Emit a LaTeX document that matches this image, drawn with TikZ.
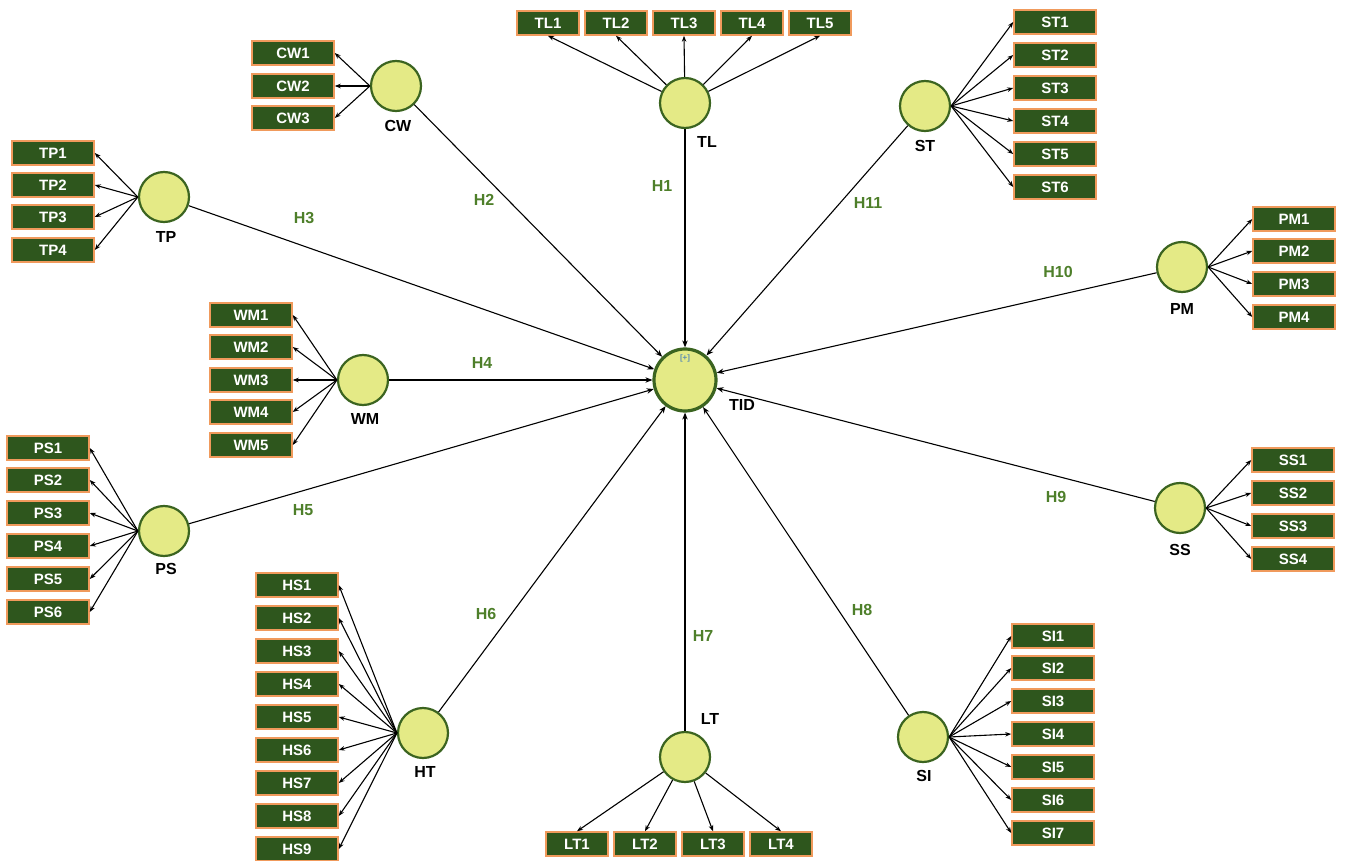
\documentclass[tikz,border=0pt]{standalone}
\usepackage{fontspec}
\setmainfont{Liberation Sans}
\usetikzlibrary{arrows.meta}
\definecolor{boxfill}{HTML}{2E561D}
\definecolor{boxedge}{HTML}{F09A5C}
\definecolor{circfill}{HTML}{E4EA86}
\definecolor{circdark}{HTML}{3B6420}
\definecolor{hgreen}{HTML}{4E7F2A}
\definecolor{plusblue}{HTML}{5B8DB2}
\tikzset{
  ind/.style={draw=boxedge, fill=boxfill, line width=1.5pt, minimum width=82pt,
    minimum height=24pt, inner sep=0pt, text=white,
    font=\bfseries\fontsize{15}{15}\selectfont},
  indn/.style={ind, minimum width=62pt},
  lv/.style={circle, draw=circdark, fill=circfill, line width=2.2pt,
    minimum size=50pt, inner sep=0pt},
  lab/.style={font=\bfseries\fontsize{16}{16}\selectfont},
  hyp/.style={text=hgreen, font=\bfseries\fontsize{16}{16}\selectfont},
  load/.style={-{Stealth[length=6pt,width=4.5pt]}, line width=1.1pt},
  strpath/.style={-{Stealth[length=7pt,width=5.5pt]}, line width=1.1pt},
}
\begin{document}
\begin{tikzpicture}[x=1pt,y=-1pt]
\useasboundingbox (0,0) rectangle (1345,861);

% central construct
\node[lv, minimum size=62pt, line width=3.2pt] (TID) at (685,380) {};
\node[text=plusblue, font=\bfseries\fontsize{8}{8}\selectfont] at (685,358) {[+]};
\node[lab] (TIDl) at (742,405) {TID};

% exogenous constructs
\node[lv] (TL) at (685,103) {};  \node[lab] (TLl) at (707,142) {TL};
\node[lv] (CW) at (396,86) {};   \node[lab] (CWl) at (398,126) {CW};
\node[lv] (TP) at (164,197) {};  \node[lab] (TPl) at (166,237) {TP};
\node[lv] (WM) at (363,380) {};  \node[lab] (WMl) at (365,419) {WM};
\node[lv] (PS) at (164,531) {};  \node[lab] (PSl) at (166,569) {PS};
\node[lv] (HT) at (423,733) {};  \node[lab] (HTl) at (425,772) {HT};
\node[lv] (LT) at (685,757) {};  \node[lab] (LTl) at (710,719) {LT};
\node[lv] (SI) at (923,737) {};  \node[lab] (SIl) at (924,776) {SI};
\node[lv] (ST) at (925,106) {};  \node[lab] (STl) at (925,146) {ST};
\node[lv] (PM) at (1182,267) {}; \node[lab] (PMl) at (1182,309) {PM};
\node[lv] (SS) at (1180,508) {}; \node[lab] (SSl) at (1180,550) {SS};

% indicators
\foreach \i/\x in {1/548,2/616,3/684,4/752,5/820}{
  \node[indn] (TL\i) at (\x,23) {TL\i};
  \draw[load] (TL) -- (TL\i.south);
}
\foreach \i/\x in {1/577,2/645,3/713,4/781}{
  \node[indn] (LT\i) at (\x,844) {LT\i};
  \draw[load] (LT) -- (LT\i.north);
}
\foreach \i/\y in {1/53,2/86,3/118}{
  \node[ind] (CW\i) at (293,\y) {CW\i};
  \draw[load] (CW.west) -- (CW\i.east);
}
\foreach \i/\y in {1/153,2/185,3/217,4/250}{
  \node[ind] (TP\i) at (53,\y) {TP\i};
  \draw[load] (TP.west) -- (TP\i.east);
}
\foreach \i/\y in {1/315,2/347,3/380,4/412,5/445}{
  \node[ind] (WM\i) at (251,\y) {WM\i};
  \draw[load] (WM.west) -- (WM\i.east);
}
\foreach \i/\y in {1/448,2/480,3/513,4/546,5/579,6/612}{
  \node[ind] (PS\i) at (48,\y) {PS\i};
  \draw[load] (PS.west) -- (PS\i.east);
}
\foreach \i/\y in {1/585,2/618,3/651,4/684,5/717,6/750,7/783,8/816,9/849}{
  \node[ind] (HS\i) at (297,\y) {HS\i};
  \draw[load] (HT.west) -- (HS\i.east);
}
\foreach \i/\y in {1/636,2/668,3/701,4/734,5/767,6/800,7/833}{
  \node[ind] (SI\i) at (1053,\y) {SI\i};
  \draw[load] (SI.east) -- (SI\i.west);
}
\foreach \i/\y in {1/22,2/55,3/88,4/121,5/154,6/187}{
  \node[ind] (ST\i) at (1055,\y) {ST\i};
  \draw[load] (ST.east) -- (ST\i.west);
}
\foreach \i/\y in {1/219,2/251,3/284,4/317}{
  \node[ind] (PM\i) at (1294,\y) {PM\i};
  \draw[load] (PM.east) -- (PM\i.west);
}
\foreach \i/\y in {1/460,2/493,3/526,4/559}{
  \node[ind] (SS\i) at (1293,\y) {SS\i};
  \draw[load] (SS.east) -- (SS\i.west);
}

% structural paths
\draw[strpath] (TL) -- (TID);
\draw[strpath] (CW) -- (TID);
\draw[strpath] (TP) -- (TID);
\draw[strpath] (WM) -- (TID);
\draw[strpath] (PS) -- (TID);
\draw[strpath] (HT) -- (TID);
\draw[strpath] (LT) -- (TID);
\draw[strpath] (SI) -- (TID);
\draw[strpath] (SS) -- (TID);
\draw[strpath] (PM) -- (TID);
\draw[strpath] (ST) -- (TID);

% hypothesis labels
\node[hyp] (H1) at (662,186) {H1};
\node[hyp] (H2) at (484,200) {H2};
\node[hyp] (H3) at (304,218) {H3};
\node[hyp] (H4) at (482,363) {H4};
\node[hyp] (H5) at (303,510) {H5};
\node[hyp] (H6) at (486,614) {H6};
\node[hyp] (H7) at (703,636) {H7};
\node[hyp] (H8) at (862,610) {H8};
\node[hyp] (H9) at (1056,497) {H9};
\node[hyp] (H10) at (1058,272) {H10};
\node[hyp] (H11) at (868,203) {H11};
\end{tikzpicture}
\end{document}
